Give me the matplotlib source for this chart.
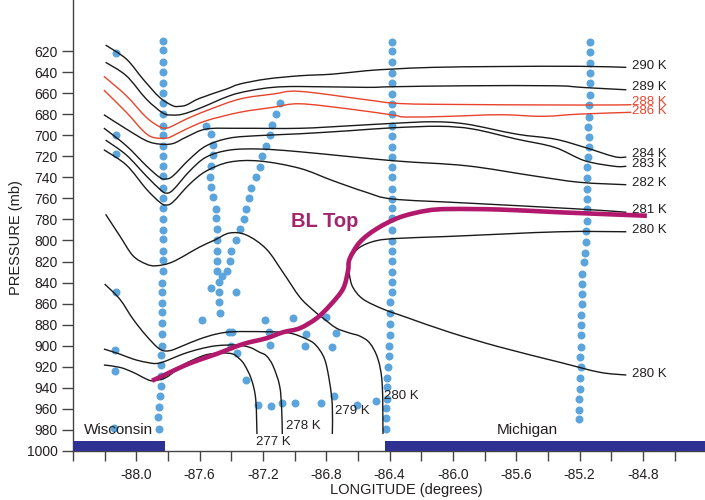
import matplotlib
matplotlib.use("Agg")
import matplotlib.pyplot as plt
from matplotlib.path import Path
from matplotlib.patches import PathPatch

plt.rcParams['font.family'] = ['Liberation Sans', 'DejaVu Sans']

# isentropes (longitude, pressure)
th290_lon = [-88.194, -88.063, -87.958, -87.853, -87.769, -87.726, -87.684, -87.600, -87.431, -87.347, -87.179, -86.968, -86.758, -86.547, -86.379, -86.126, -85.705, -85.200, -84.905]
th290_p = [614.3, 627.6, 646.6, 664.0, 672.0, 672.5, 671.3, 664.9, 656.1, 651.4, 646.6, 643.5, 641.9, 638.7, 637.1, 635.5, 634.7, 634.5, 635.5]

th289_lon = [-88.194, -88.063, -87.937, -87.832, -87.771, -87.706, -87.600, -87.411, -87.284, -87.137, -86.968, -86.547, -86.379, -85.915, -85.358, -85.168, -84.905]
th289_p = [630.7, 643.5, 665.6, 678.9, 680.8, 679.9, 674.4, 662.5, 657.7, 654.5, 653.7, 654.5, 653.9, 653.0, 653.0, 654.7, 656.8]

th288_lon = [-88.205, -88.063, -87.937, -87.853, -87.810, -87.769, -87.684, -87.558, -87.347, -87.137, -86.968, -86.547, -86.379, -86.126, -85.200, -84.873]
th288_p = [644.0, 662.5, 683.0, 691.9, 693.2, 691.0, 684.6, 676.7, 665.6, 660.9, 658.3, 666.3, 669.4, 670.6, 671.3, 671.0]

th286_lon = [-88.205, -88.063, -87.958, -87.895, -87.810, -87.769, -87.684, -87.558, -87.347, -87.137, -86.968, -86.653, -86.379, -86.294, -86.021, -85.705, -85.432, -85.200, -84.873]
th286_p = [657.1, 678.2, 695.7, 702.0, 702.7, 700.5, 694.1, 686.2, 678.2, 673.5, 670.1, 675.1, 680.8, 682.7, 682.0, 680.5, 682.0, 679.9, 678.2]

th284_lon = [-88.205, -88.063, -87.937, -87.853, -87.769, -87.684, -87.558, -87.347, -86.968, -86.653, -86.379, -86.126, -85.915, -85.600, -85.358, -85.168, -84.979, -84.905]
th284_p = [680.5, 694.1, 705.2, 708.4, 707.9, 701.7, 694.1, 693.4, 693.4, 691.0, 688.7, 687.2, 689.4, 698.9, 703.6, 711.5, 720.4, 720.7]

th283_lon = [-88.205, -88.063, -87.937, -87.853, -87.815, -87.769, -87.663, -87.558, -87.411, -87.221, -86.968, -86.653, -86.379, -86.084, -85.874, -85.600, -85.358, -85.168, -84.979, -84.905]
th283_p = [693.2, 710.0, 729.0, 740.0, 741.6, 738.7, 722.6, 710.0, 702.7, 700.3, 698.6, 695.7, 692.9, 691.5, 694.1, 703.6, 711.5, 724.2, 729.5, 729.5]

th282_lon = [-88.194, -88.063, -87.937, -87.853, -87.815, -87.769, -87.663, -87.558, -87.411, -87.221, -86.968, -86.379, -85.915, -85.495, -85.200, -84.905]
th282_p = [704.6, 718.8, 738.7, 751.1, 754.9, 752.1, 734.0, 720.7, 714.1, 713.1, 715.7, 724.2, 729.0, 738.5, 744.7, 747.0]

th281_lon = [-88.205, -88.063, -87.937, -87.853, -87.815, -87.769, -87.663, -87.558, -87.411, -87.221, -86.968, -86.758, -86.547, -86.379, -85.915, -85.200, -84.905]
th281_p = [713.8, 728.3, 751.1, 763.5, 766.3, 763.5, 746.4, 734.0, 725.5, 724.5, 731.4, 743.2, 754.2, 760.6, 764.4, 770.1, 773.2]

th280a_lon = [-88.194, -88.105, -88.021, -87.937, -87.874, -87.769, -87.600, -87.505, -87.411, -87.305, -87.179, -87.074, -86.968, -86.884, -86.821, -86.737, -86.653, -86.589, -86.526, -86.474, -86.447, -86.442]
th280a_p = [775.1, 795.5, 814.5, 822.4, 824.0, 820.2, 806.2, 799.6, 792.9, 794.8, 808.1, 830.2, 853.7, 866.1, 873.7, 883.2, 887.9, 890.8, 897.4, 912.6, 936.4, 983.9]

th280b_lon = [-84.905, -85.326, -86.021, -86.337, -86.484, -86.589, -86.642, -86.657, -86.653, -86.632, -86.569, -86.442, -86.294, -86.021, -85.705, -85.326, -85.073, -84.905]
th280b_p = [791.7, 791.7, 796.1, 797.9, 800.2, 806.5, 816.0, 824.0, 833.5, 844.5, 855.6, 865.1, 873.0, 887.2, 901.2, 915.7, 925.2, 927.8]

th279_lon = [-88.200, -88.105, -88.021, -87.937, -87.853, -87.790, -87.706, -87.600, -87.495, -87.390, -87.179, -87.032, -86.926, -86.867, -86.811, -86.779, -86.762, -86.762]
th279_p = [841.4, 855.6, 874.6, 890.5, 903.1, 904.7, 900.0, 893.6, 888.9, 886.7, 886.7, 887.9, 893.6, 899.3, 912.6, 934.7, 957.0, 983.9]

th278_lon = [-88.205, -88.105, -88.021, -87.937, -87.853, -87.706, -87.600, -87.495, -87.368, -87.284, -87.221, -87.179, -87.137, -87.095, -87.082, -87.078]
th278_p = [903.1, 907.9, 912.6, 915.7, 916.4, 907.9, 903.1, 900.0, 899.3, 901.5, 906.2, 909.5, 919.0, 938.0, 960.1, 983.9]

th277_lon = [-88.205, -88.105, -88.021, -87.937, -87.895, -87.810, -87.706, -87.600, -87.537, -87.453, -87.390, -87.347, -87.316, -87.274, -87.246, -87.238]
th277_p = [918.3, 920.5, 925.2, 931.6, 933.2, 930.0, 918.3, 910.7, 907.9, 906.9, 907.9, 912.6, 918.3, 931.6, 950.6, 983.9]

# boundary-layer top
bl_lon = [-87.901, -87.832, -87.706, -87.600, -87.495, -87.326, -87.179, -87.074, -86.968, -86.863, -86.779, -86.695, -86.663, -86.653, -86.589, -86.484, -86.337, -86.168, -86.021, -85.705, -85.326, -84.775]
bl_p = [933.2, 928.5, 919.5, 913.3, 907.9, 898.4, 892.9, 887.2, 883.4, 874.1, 862.0, 846.1, 829.0, 817.6, 801.7, 789.1, 778.0, 771.7, 770.1, 770.6, 773.2, 776.5]

# labels at the right-hand ends
right_labels = ["290 K", "289 K", "288 K", "286 K", "284 K", "283 K", "282 K", "281 K", "280 K", "280 K"]
right_label_p = [634.3, 654.2, 668.5, 677.0, 717.9, 727.4, 745.4, 771.0, 790.1, 926.9]
right_label_red = [False, False, True, True, False, False, False, False, False, False]

# labels at the bottom ends
bottom_labels = ["277 K", "278 K", "279 K", "280 K"]
bottom_label_lon = [-87.245, -87.057, -86.747, -86.438]
bottom_label_p = [991.2, 976.0, 961.7, 947.5]

# observation points (blue dots)
col1_p = [610, 619, 630, 640, 650, 660, 669, 680, 691, 700, 710, 720, 729, 739, 750, 760, 769, 780, 790, 799,
          810, 819, 829, 840, 849, 859, 868, 878, 889, 900, 909, 918, 929, 938, 948, 958, 968, 979]
col1_lon = [-87.83] * 23 + [-87.837] * 6 + [-87.84, -87.842, -87.842, -87.845, -87.847, -87.853, -87.859, -87.863, -87.857]

col2_p = [611.2, 620.3, 630.7, 640.6, 650.4, 660.9, 670.6, 679.9, 691.6, 701.1, 711.0, 721.1, 730.0, 739.7, 751.1,
          760.6, 769.2, 778.7, 789.8, 800.3, 809.8, 819.9, 829.8, 839.9, 849.4, 858.9, 869.1, 879.5, 889.8, 900.3,
          909.8, 920.2, 930.7, 939.3, 950.6, 959.1, 968.6, 979.1]
col2_lon = [-86.383] * 25 + [-86.40] * 4 + [-86.405, -86.407, -86.413, -86.418, -86.418, -86.418, -86.425, -86.425, -86.425]

col3_p = [611.7, 621.2, 631.7, 641.2, 650.4, 661.8, 671.3, 682.4, 692.5, 701.4, 711.5, 721.0, 730.5, 741.0, 751.1,
          760.6, 770.1, 781.2, 790.7, 801.7, 811.9, 820.7, 831.9, 841.4, 850.9, 860.4, 870.8, 880.3, 889.8, 901.0,
          910.5, 920.6, 931.0, 941.1, 950.6, 961.1, 969.6]
col3_lon = [-85.134, -85.132, -85.132, -85.134, -85.132, -85.134, -85.141, -85.141, -85.147, -85.141, -85.141,
            -85.147, -85.154, -85.154, -85.154, -85.154, -85.154, -85.154, -85.162, -85.162, -85.168, -85.174,
            -85.183, -85.183, -85.185, -85.185, -85.193, -85.193, -85.193, -85.193, -85.195, -85.193, -85.200,
            -85.200, -85.203, -85.206, -85.206]

scatter_lon = [-88.131, -88.131, -88.131, -88.131, -88.136, -88.136, -88.142,
               -87.558, -87.526, -87.516, -87.516, -87.526, -87.537, -87.531, -87.516, -87.499, -87.499, -87.491,
               -87.488, -87.488, -87.488, -87.491, -87.480, -87.478, -87.478, -87.469,
               -87.531, -87.457, -87.428, -87.368, -87.586,
               -87.090, -87.120, -87.143, -87.154, -87.183, -87.204, -87.221, -87.246, -87.274, -87.289, -87.310,
               -87.322, -87.347, -87.373, -87.400, -87.411,
               -87.190, -87.011, -86.804, -87.417, -87.394, -87.164, -86.931, -86.741, -87.400, -87.362, -87.154,
               -86.937, -86.764, -87.305, -87.232, -87.150, -87.078, -86.996, -86.834, -86.754, -86.606, -86.484]
scatter_p = [622.2, 699.8, 718.1, 848.7, 903.8, 924.3, 978.2,
             691.0, 698.9, 709.0, 718.8, 729.5, 740.0, 749.5, 759.0, 770.1, 778.9, 789.1,
             799.3, 809.7, 819.2, 828.7, 839.2, 848.7, 858.7, 869.2,
             845.4, 834.0, 829.3, 849.2, 875.3,
             669.7, 679.9, 690.3, 699.8, 710.0, 720.0, 730.5, 740.0, 750.2, 759.4, 770.1,
             779.6, 789.1, 799.6, 809.7, 819.2,
             875.3, 873.7, 873.0, 887.2, 887.2, 887.2, 888.9, 887.9, 900.0, 906.9, 899.3,
             900.5, 901.5, 932.6, 956.3, 957.3, 954.7, 954.7, 954.7, 948.0, 956.3, 952.5]

# land strips along the bottom
land_names = ["Wisconsin", "Michigan"]
land_west = [-88.40, -86.43]
land_east = [-87.82, -84.40]
land_text_lon = [-88.115, -85.528]

yticks = [620, 640, 660, 680, 700, 720, 740, 760, 780, 800, 820, 840, 860, 880, 900, 920, 940, 960, 980, 1000]
xticks = [-88.0, -87.6, -87.2, -86.8, -86.4, -86.0, -85.6, -85.2, -84.8]
xtick_labels = ["-88.0", "-87.6", "-87.2", "-86.8", "-86.4", "-86.0", "-85.6", "-85.2", "-84.8"]
xminor = [-88.4, -88.2, -87.8, -87.4, -87.0, -86.6, -86.2, -85.8, -85.4, -85.0, -84.6]

dot_c = "#5ba4dc"
red_c = "#e8432b"
bl_c = "#b2186c"
txt_c = "#231f20"


def smooth(lon, p):
    # bezier curve through the read points (catmull-rom handles)
    pts = list(zip(lon, p))
    verts = [pts[0]]
    codes = [Path.MOVETO]
    n = len(pts)
    for i in range(n - 1):
        p0 = pts[max(i - 1, 0)]
        p1 = pts[i]
        p2 = pts[i + 1]
        p3 = pts[min(i + 2, n - 1)]
        c1 = (p1[0] + (p2[0] - p0[0]) / 6, p1[1] + (p2[1] - p0[1]) / 6)
        c2 = (p2[0] - (p3[0] - p1[0]) / 6, p2[1] - (p3[1] - p1[1]) / 6)
        verts += [c1, c2, p2]
        codes += [Path.CURVE4] * 3
    return Path(verts, codes)


fig = plt.figure(figsize=(7.05, 5), dpi=100)
ax = fig.add_axes([73 / 705, 49 / 500, 632 / 705, 451 / 500])

dot_lon = col1_lon + col2_lon + col3_lon + scatter_lon
dot_p = col1_p + col2_p + col3_p + scatter_p
ax.scatter(dot_lon, dot_p, s=33, color=dot_c, linewidths=0, zorder=2, clip_on=False)

black_lines = [(th290_lon, th290_p), (th289_lon, th289_p), (th284_lon, th284_p), (th283_lon, th283_p),
               (th282_lon, th282_p), (th281_lon, th281_p), (th280a_lon, th280a_p), (th280b_lon, th280b_p),
               (th279_lon, th279_p), (th278_lon, th278_p), (th277_lon, th277_p)]
for lon, p in black_lines:
    ax.add_patch(PathPatch(smooth(lon, p), fill=False, edgecolor="#1a1a1a", lw=1.0, zorder=3))
for lon, p in [(th288_lon, th288_p), (th286_lon, th286_p)]:
    ax.add_patch(PathPatch(smooth(lon, p), fill=False, edgecolor=red_c, lw=1.0, zorder=3))

ax.add_patch(PathPatch(smooth(bl_lon, bl_p), fill=False, edgecolor=bl_c, lw=3.3, zorder=4,
                       capstyle="butt", joinstyle="round"))
ax.text(-87.021, 782.0, "BL Top", color="#a3256c", fontsize=14.5, fontweight="bold", va="center", ha="left")

for lab, p, red in zip(right_labels, right_label_p, right_label_red):
    ax.text(-84.867, p, lab, color=red_c if red else txt_c, fontsize=9.5, va="center", ha="left", zorder=5)
for lab, lon, p in zip(bottom_labels, bottom_label_lon, bottom_label_p):
    ax.text(lon, p, lab, color=txt_c, fontsize=9.5, va="center", ha="left", zorder=5)

for name, w, e, tx in zip(land_names, land_west, land_east, land_text_lon):
    ax.fill_between([w, e], 990.5, 1000, color="#2e3192", lw=0, zorder=4, clip_on=False)
    ax.text(tx, 980.0, name, color=txt_c, fontsize=11, ha="center", va="center")

ax.set_xlim(-88.4, -84.408)
ax.set_ylim(1000, 571.5)
ax.set_yticks(yticks)
ax.set_yticklabels([str(v) for v in yticks])
ax.set_xticks(xticks)
ax.set_xticklabels(xtick_labels)
ax.set_xticks(xminor, minor=True)
ax.tick_params(axis="both", which="both", direction="out", color="#444444", labelcolor=txt_c, labelsize=10)
ax.tick_params(axis="y", length=8, width=1, pad=3)
ax.tick_params(axis="x", which="both", length=7, width=1, pad=5)

for side in ["top", "right"]:
    ax.spines[side].set_visible(False)
for side in ["left", "bottom"]:
    ax.spines[side].set_color("#444444")
    ax.spines[side].set_linewidth(1.0)

fig.text(0.577, 0.02, "LONGITUDE (degrees)", fontsize=10.5, color=txt_c, ha="center", va="center")
fig.text(0.022, 0.524, "PRESSURE (mb)", fontsize=10.5, color=txt_c, ha="center", va="center", rotation=90)

fig.savefig("out.png", dpi=100)
